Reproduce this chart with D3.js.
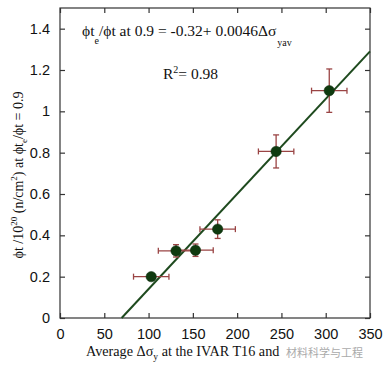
<!DOCTYPE html>
<html><head><meta charset="utf-8">
<script src="https://cdn.jsdelivr.net/npm/d3@7"></script>
<style>html,body{margin:0;padding:0;background:#fff;}svg{display:block;}</style>
</head><body>
<svg id="c" width="390" height="369"></svg>
<script>
const xVals = [103, 131, 153, 178, 244, 304];
const yVals = [0.20, 0.325, 0.328, 0.43, 0.806, 1.10];
const xErr = [20, 20, 20, 20, 20, 20];
const yErr = [0, 0.03, 0.03, 0.045, 0.08, 0.105];
const xTicks = [0, 50, 100, 150, 200, 250, 300, 350];
const yTicks = [0, 0.2, 0.4, 0.6, 0.8, 1, 1.2, 1.4];
const fitIntercept = -0.32, fitSlope = 0.0046;

const svg = d3.select("#c");
const L = 60, R = 370, T = 8, B = 318;
const x = d3.scaleLinear().domain([0, 350]).range([L, R]);
const y = d3.scaleLinear().domain([0, 1.5]).range([B, T]);
const tickFmt = d => d === 0 ? "0" : (d === 1 ? "1" : d3.format(".1f")(d));
const frameCol = "#333";

svg.append("rect").attr("x", L).attr("y", T).attr("width", R - L).attr("height", B - T)
  .attr("fill", "none").attr("stroke", frameCol).attr("stroke-width", 1.2);

const sty = g => { g.select(".domain").remove(); g.selectAll(".tick line").attr("stroke", frameCol).attr("stroke-width", 1.2); };
svg.append("g").attr("transform", `translate(0,${B})`)
  .call(d3.axisBottom(x).tickValues(xTicks).tickSizeInner(-5).tickSizeOuter(0).tickPadding(11).tickFormat(d3.format("d")))
  .call(sty).call(g => g.selectAll("text").attr("font-family", "Liberation Sans, Arial, sans-serif").attr("font-size", 14.5).attr("fill", "#111"));
svg.append("g").attr("transform", `translate(0,${T})`)
  .call(d3.axisTop(x).tickValues(xTicks).tickSizeInner(-5).tickSizeOuter(0).tickFormat(""))
  .call(sty);
svg.append("g").attr("transform", `translate(${L},0)`)
  .call(d3.axisLeft(y).tickValues(yTicks).tickSizeInner(-5).tickSizeOuter(0).tickPadding(10).tickFormat(tickFmt))
  .call(sty).call(g => g.selectAll("text").attr("font-family", "Liberation Sans, Arial, sans-serif").attr("font-size", 14.5).attr("fill", "#111"));
svg.append("g").attr("transform", `translate(${R},0)`)
  .call(d3.axisRight(y).tickValues(yTicks).tickSizeInner(-5).tickSizeOuter(0).tickFormat(""))
  .call(sty);

const x0 = -fitIntercept / fitSlope, x1 = 350;
svg.append("line")
  .attr("x1", x(x0)).attr("y1", y(fitIntercept + fitSlope * x0))
  .attr("x2", x(x1)).attr("y2", y(fitIntercept + fitSlope * x1))
  .attr("stroke", "#1e4a1e").attr("stroke-width", 2);

const ec = "#9a4444", cap = 3;
const data = xVals.map((v, i) => ({x: v, y: yVals[i], ex: xErr[i], ey: yErr[i]}));
const eg = svg.append("g").attr("stroke", ec).attr("stroke-width", 1.3);
data.forEach(d => {
  eg.append("line").attr("x1", x(d.x - d.ex)).attr("x2", x(d.x + d.ex)).attr("y1", y(d.y)).attr("y2", y(d.y));
  eg.append("line").attr("x1", x(d.x - d.ex)).attr("x2", x(d.x - d.ex)).attr("y1", y(d.y) - cap).attr("y2", y(d.y) + cap);
  eg.append("line").attr("x1", x(d.x + d.ex)).attr("x2", x(d.x + d.ex)).attr("y1", y(d.y) - cap).attr("y2", y(d.y) + cap);
  if (d.ey > 0) {
    eg.append("line").attr("x1", x(d.x)).attr("x2", x(d.x)).attr("y1", y(d.y - d.ey)).attr("y2", y(d.y + d.ey));
    eg.append("line").attr("x1", x(d.x) - cap).attr("x2", x(d.x) + cap).attr("y1", y(d.y - d.ey)).attr("y2", y(d.y - d.ey));
    eg.append("line").attr("x1", x(d.x) - cap).attr("x2", x(d.x) + cap).attr("y1", y(d.y + d.ey)).attr("y2", y(d.y + d.ey));
  }
});

svg.append("g").selectAll("circle").data(data).join("circle")
  .attr("cx", d => x(d.x)).attr("cy", d => y(d.y)).attr("r", 5.2)
  .attr("fill", "#0f3a0f").attr("stroke", "#0a2a0a").attr("stroke-width", 0.5);

const serif = "Liberation Serif, Times New Roman, serif";
const eq = svg.append("text").attr("x", 82).attr("y", 36).attr("font-family", serif).attr("font-size", 15.5).attr("fill", "#111");
eq.append("tspan").text("ϕt");
eq.append("tspan").attr("font-size", 10).attr("dy", 8).text("e");
eq.append("tspan").attr("dy", -8).text("/ϕt at 0.9 = -0.32+ 0.0046Δσ");
eq.append("tspan").attr("font-size", 10).attr("dy", 10).attr("dx", 1).text("yav");

const r2 = svg.append("text").attr("x", 163).attr("y", 79).attr("font-family", serif).attr("font-size", 15.5).attr("fill", "#111");
r2.append("tspan").text("R");
r2.append("tspan").attr("font-size", 10).attr("dy", -6).text("2");
r2.append("tspan").attr("dy", 6).text("= 0.98");

const yl = svg.append("text").attr("transform", "translate(23,175) rotate(-90)").attr("text-anchor", "middle")
  .attr("font-family", serif).attr("font-size", 14).attr("fill", "#111");
yl.append("tspan").text("ϕt /10");
yl.append("tspan").attr("font-size", 9).attr("dy", -6).text("20");
yl.append("tspan").attr("dy", 6).text(" (n/cm");
yl.append("tspan").attr("font-size", 9).attr("dy", -6).text("2");
yl.append("tspan").attr("dy", 6).text(") at ϕt");
yl.append("tspan").attr("font-size", 9).attr("dy", 4).text("e");
yl.append("tspan").attr("dy", -4).text("/ϕt = 0.9");

const xl = svg.append("text").attr("x", 86).attr("y", 356).attr("font-family", serif).attr("font-size", 14.2).attr("fill", "#111");
xl.append("tspan").text("Average Δσ");
xl.append("tspan").attr("font-size", 9.5).attr("dy", 4).text("y");
xl.append("tspan").attr("dy", -4).text(" at the IVAR T16  and ");

svg.append("text").attr("x", 286).attr("y", 357).attr("font-family", "Noto Sans CJK SC, sans-serif")
  .attr("font-size", 11).attr("fill", "#aaa").text("材料科学与工程");
</script>
</body></html>
